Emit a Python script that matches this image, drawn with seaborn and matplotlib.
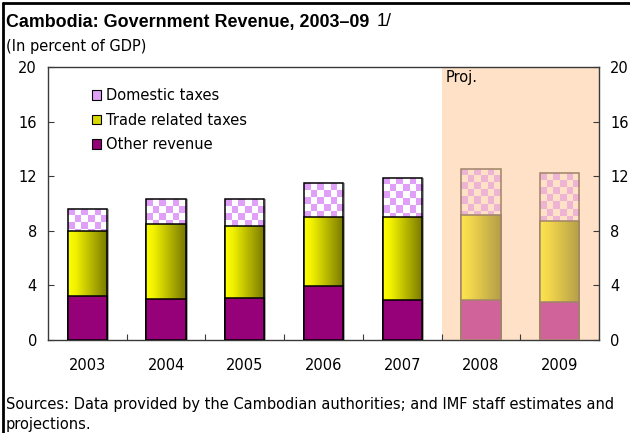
import numpy as np
import pandas as pd
import matplotlib
matplotlib.use("Agg")
import matplotlib.pyplot as plt
import seaborn as sns
from matplotlib.patches import Patch, Rectangle
from matplotlib.lines import Line2D

# ---- data (percent of GDP) ----
years = ["2003", "2004", "2005", "2006", "2007", "2008", "2009"]
other_revenue = [3.2, 3.0, 3.05, 3.95, 2.9, 2.95, 2.75]
trade_taxes = [4.8, 5.5, 5.3, 5.05, 6.1, 6.2, 5.95]
domestic_taxes = [1.6, 1.8, 1.95, 2.5, 2.9, 3.4, 3.5]
projected = [False, False, False, False, False, True, True]
y_ticks = [0, 4, 8, 12, 16, 20]

df = pd.DataFrame({"year": years, "other": other_revenue,
                   "trade": trade_taxes, "domestic": domestic_taxes})
df["cum_trade"] = df["other"] + df["trade"]
df["total"] = df["cum_trade"] + df["domestic"]

sns.set_style("white")
plt.rcParams["font.family"] = ["DejaVu Sans"]
plt.rcParams["text.color"] = "black"
plt.rcParams["xtick.color"] = "black"
plt.rcParams["ytick.color"] = "black"
plt.rcParams["xtick.labelcolor"] = "black"
plt.rcParams["ytick.labelcolor"] = "black"
BODY = 10.5

fig = plt.figure(figsize=(6.30, 4.33), dpi=100)
ax = fig.add_axes([48 / 630, 1 - 340 / 433, 551 / 630, 273 / 433])

PEACH = "#FEE1C7"
PURPLE = "#960078"
PURPLE_P = "#D0649A"

W = 0.5
edge_cols = ["#A08468" if p else "black" for p in projected]

# layer 1: totals (domestic top segment)
n_a = len(ax.patches)
sns.barplot(data=df, x="year", y="total", hue="year", palette=["white"] * 7,
            width=W, legend=False, ax=ax, zorder=2, linewidth=0)
n_b = len(ax.patches)
tot_patches = list(ax.patches[n_a:n_b])
# layer 2: other + trade
sns.barplot(data=df, x="year", y="cum_trade", hue="year", palette=["yellow"] * 7,
            width=W, legend=False, ax=ax, zorder=3, linewidth=0)
n_c = len(ax.patches)
trade_patches = list(ax.patches[n_b:n_c])
# layer 3: other revenue
sns.barplot(data=df, x="year", y="other", hue="year",
            palette=[PURPLE_P if p else PURPLE for p in projected],
            width=W, legend=False, ax=ax, zorder=4, linewidth=0, saturation=1)
n_d = len(ax.patches)
other_patches = list(ax.patches[n_c:n_d])

ax.axvspan(4.5, 6.5, color=PEACH, zorder=0, lw=0)


def sort_x(ps):
    return sorted(ps, key=lambda p: p.get_x())


tot_patches = sort_x(tot_patches)
trade_patches = sort_x(trade_patches)
other_patches = sort_x(other_patches)


def outline(p, z, ec):
    r = Rectangle((p.get_x(), p.get_y()), p.get_width(), p.get_height(),
                  fill=False, ec=ec, lw=1.1, zorder=z)
    ax.add_patch(r)


def shadow(p, z):
    # thin gray shade along the right edge of a bar
    r = Rectangle((p.get_x() + p.get_width(), p.get_y()), 0.025, p.get_height(),
                  fc="#A8A8A8", ec="none", zorder=z)
    ax.add_patch(r)


def hexrgb(h):
    return np.array(matplotlib.colors.to_rgb(h))


# checker texture on domestic segments
ncol = 6
cell_h = 0.52
nrow = 44
for i, p in enumerate(tot_patches):
    c1 = hexrgb("#EDB4D4") if projected[i] else hexrgb("#E0A0F8")
    c2 = hexrgb(PEACH) if projected[i] else hexrgb("#FFFFFF")
    arr = np.zeros((nrow, ncol, 3))
    for r in range(nrow):
        for c in range(ncol):
            arr[r, c] = c1 if (r + c) % 2 == 0 else c2
    x0 = p.get_x()
    x1 = x0 + p.get_width()
    top = p.get_height()
    im = ax.imshow(arr, extent=[x0, x1, top - nrow * cell_h, top], origin="upper",
                   aspect="auto", interpolation="nearest", zorder=2.1)
    im.set_clip_path(p)
    outline(p, 2.2, edge_cols[i])
    if not projected[i]:
        shadow(p, 1.9)

# gradient texture on trade segments
for i, p in enumerate(trade_patches):
    if projected[i]:
        stops = [hexrgb("#FBE44E"), hexrgb("#F4D84C"), hexrgb("#B49E48")]
    else:
        stops = [hexrgb("#FFFF00"), hexrgb("#F0F000"), hexrgb("#787800")]
    N = 64
    t = np.linspace(0, 1, N)
    grad = np.zeros((1, N, 3))
    for k, tt in enumerate(t):
        if tt < 0.2:
            grad[0, k] = stops[0] + (stops[1] - stops[0]) * (tt / 0.2)
        else:
            grad[0, k] = stops[1] + (stops[2] - stops[1]) * ((tt - 0.2) / 0.8)
    x0 = p.get_x()
    x1 = x0 + p.get_width()
    im = ax.imshow(grad, extent=[x0, x1, 0, p.get_height()], aspect="auto",
                   interpolation="bilinear", zorder=3.1)
    im.set_clip_path(p)
    outline(p, 3.2, edge_cols[i])

for i, p in enumerate(other_patches):
    outline(p, 4.2, edge_cols[i])

ax.set_xlim(-0.5, 6.5)
ax.set_ylim(0, 20)
ax.set_xlabel("")
ax.set_ylabel("")
ax.set_yticks(y_ticks)
ax.set_yticklabels([str(v) for v in y_ticks])

for s in ax.spines.values():
    s.set_color("#3A3A3A")
    s.set_linewidth(1.0)
    s.set_visible(True)

ax.tick_params(axis="y", direction="in", length=4, width=0.8, color="#3A3A3A",
               labelsize=BODY, pad=8, left=True, right=True,
               labelleft=True, labelright=True)
ax.tick_params(axis="x", which="major", length=0, labelsize=BODY, pad=13)
ax.set_xticks([0.5, 1.5, 2.5, 3.5, 4.5, 5.5], minor=True)
ax.tick_params(axis="x", which="minor", direction="in", length=4, width=0.8,
               color="#3A3A3A", bottom=True)

ax.text(4.55, 19.75, "Proj.", fontsize=BODY, va="top", ha="left", zorder=5)

handles = [
    Patch(facecolor="#E0A0F8", edgecolor="black", lw=0.8),
    Patch(facecolor="#D8D800", edgecolor="black", lw=0.8),
    Patch(facecolor=PURPLE, edgecolor="black", lw=0.8),
]
leg = ax.legend(handles, ["Domestic taxes", "Trade related taxes", "Other revenue"],
                loc="upper left", bbox_to_anchor=(0.069, 0.944), frameon=False,
                fontsize=BODY, handlelength=0.65, handleheight=0.65,
                handletextpad=0.3, labelspacing=0.66, borderaxespad=0)
leg.set_zorder(6)

# titles and notes
fig.text(6 / 630, 1 - 22 / 433, "Cambodia: Government Revenue, 2003\u201309",
         fontsize=12.9, fontweight="bold", va="center", ha="left",
         family=["Liberation Sans", "DejaVu Sans"])
fig.text(377 / 630, 1 - 22 / 433, "1/", fontsize=12.9, va="center", ha="left",
         family=["Liberation Sans", "DejaVu Sans"])
fig.text(6 / 630, 1 - 47 / 433, "(In percent of GDP)", fontsize=BODY,
         va="center", ha="left")
fig.text(6 / 630, 1 - 405 / 433,
         "Sources: Data provided by the Cambodian authorities; and IMF staff estimates and",
         fontsize=BODY, va="center", ha="left")
fig.text(6 / 630, 1 - 424 / 433, "projections.", fontsize=BODY,
         va="center", ha="left")

# frame lines (left and top)
fig.add_artist(Line2D([3 / 630, 3 / 630], [0, 1 - 3 / 433], color="black",
                      lw=2, transform=fig.transFigure))
fig.add_artist(Line2D([3 / 630, 1], [1 - 3 / 433, 1 - 3 / 433], color="black",
                      lw=2, transform=fig.transFigure))

fig.savefig("out.png", dpi=100)
